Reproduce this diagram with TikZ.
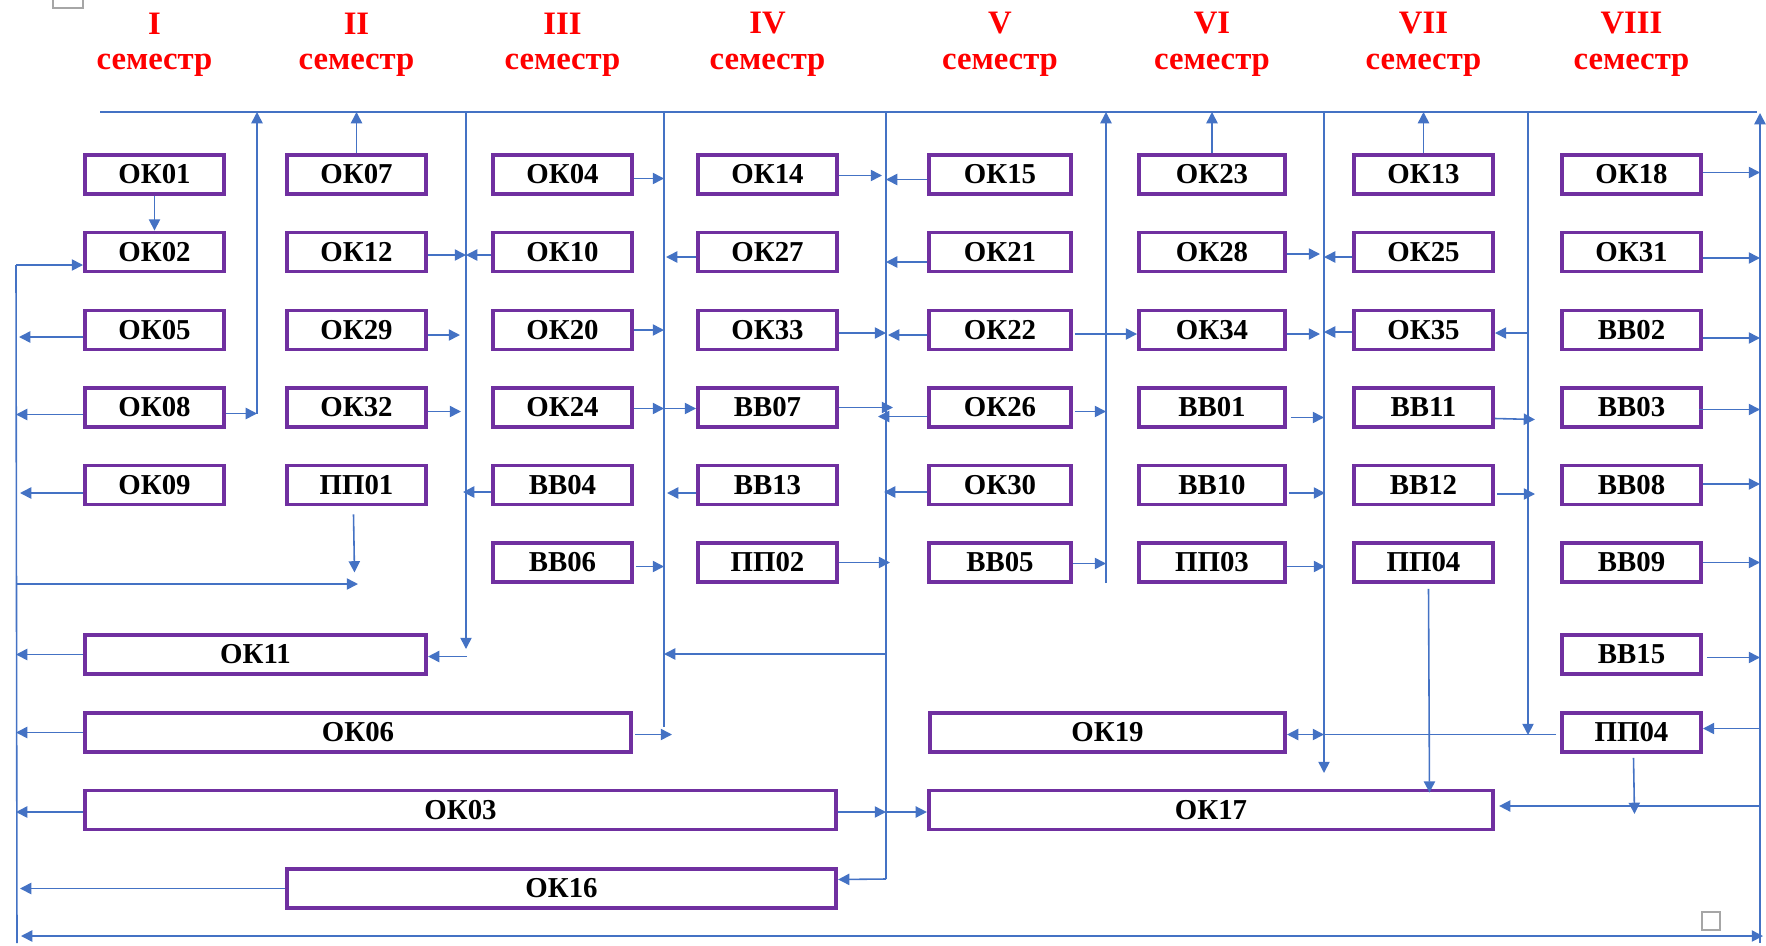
\documentclass[tikz,border=0pt]{standalone}
\usepackage{fontspec}
\setmainfont{Liberation Serif}
\usetikzlibrary{arrows.meta,calc}
\definecolor{lineblue}{HTML}{4472C4}
\definecolor{boxpurple}{HTML}{7030A0}
\definecolor{anchorgray}{HTML}{A6A6A6}
\begin{document}
\begin{tikzpicture}[x=0.01cm,y=-0.01cm,
  box/.style={draw=boxpurple, line width=1.1pt, minimum height=0.39cm, minimum width=1.39cm, inner sep=0pt, fill=white, font=\bfseries\fontsize{8.2}{9}\selectfont},
  hdr/.style={text=red, font=\bfseries\fontsize{9.3}{11}\selectfont, inner sep=0pt},
  conn/.style={draw=lineblue, line width=0.45pt},
  arr/.style={conn, -{Triangle[length=3.2pt,width=3.2pt]}},
  darr/.style={conn, {Triangle[length=3.2pt,width=3.2pt]}-{Triangle[length=3.2pt,width=3.2pt]}},
  anchormark/.style={draw=anchorgray, line width=0.6pt}
]
\useasboundingbox (0,0) rectangle (1766,945);

% headers
\foreach \n/\x/\t in {1/154.5/I,2/356.5/II,3/562.5/III,4/767.5/IV,5/1000/V,6/1212/VI,7/1423.5/VII,8/1631.5/VIII}{
  \node[hdr] (h\n) at (\x,23.5) {\t};
  \node[hdr] (s\n) at (\x,65) {семестр};
}

% bus coordinates
\coordinate (topL) at (100,112);
\coordinate (topR) at (1757,112);
\coordinate (bLt) at (16,265);
\coordinate (bLb) at (17,943);
\coordinate (bA) at (257,112);
\coordinate (bB) at (466,112);
\coordinate (bC) at (664,112);
\coordinate (bD) at (886,112);
\coordinate (bE) at (1106,112);
\coordinate (bF) at (1324,112);
\coordinate (bG) at (1528,112);
\coordinate (bRt) at (1760,113);
\coordinate (bRb) at (1760,943);
\coordinate (botL) at (21,936);
\coordinate (botR) at (1763,936);

% column I
\node[box] (ok01) at (154.5,174.5) {ОК01};
\node[box] (ok02) at (154.5,252) {ОК02};
\node[box] (ok05) at (154.5,330) {ОК05};
\node[box] (ok08) at (154.5,407.5) {ОК08};
\node[box] (ok09) at (154.5,485) {ОК09};
% column II
\node[box] (ok07) at (356.5,174.5) {ОК07};
\node[box] (ok12) at (356.5,252) {ОК12};
\node[box] (ok29) at (356.5,330) {ОК29};
\node[box] (ok32) at (356.5,407.5) {ОК32};
\node[box] (pp01) at (356.5,485) {ПП01};
% column III
\node[box] (ok04) at (562.5,174.5) {ОК04};
\node[box] (ok10) at (562.5,252) {ОК10};
\node[box] (ok20) at (562.5,330) {ОК20};
\node[box] (ok24) at (562.5,407.5) {ОК24};
\node[box] (bb04) at (562.5,485) {ВВ04};
\node[box] (bb06) at (562.5,562.5) {ВВ06};
% column IV
\node[box] (ok14) at (767.5,174.5) {ОК14};
\node[box] (ok27) at (767.5,252) {ОК27};
\node[box] (ok33) at (767.5,330) {ОК33};
\node[box] (bb07) at (767.5,407.5) {ВВ07};
\node[box] (bb13) at (767.5,485) {ВВ13};
\node[box] (pp02) at (767.5,562.5) {ПП02};
% column V
\node[box, minimum width=1.42cm] (ok15) at (1000,174.5) {ОК15};
\node[box, minimum width=1.42cm] (ok21) at (1000,252) {ОК21};
\node[box, minimum width=1.42cm] (ok22) at (1000,330) {ОК22};
\node[box, minimum width=1.42cm] (ok26) at (1000,407.5) {ОК26};
\node[box, minimum width=1.42cm] (ok30) at (1000,485) {ОК30};
\node[box, minimum width=1.42cm] (bb05) at (1000,562.5) {ВВ05};
% column VI
\node[box, minimum width=1.46cm] (ok23) at (1212,174.5) {ОК23};
\node[box, minimum width=1.46cm] (ok28) at (1212,252) {ОК28};
\node[box, minimum width=1.46cm] (ok34) at (1212,330) {ОК34};
\node[box, minimum width=1.46cm] (bb01) at (1212,407.5) {ВВ01};
\node[box, minimum width=1.46cm] (bb10) at (1212,485) {ВВ10};
\node[box, minimum width=1.46cm] (pp03) at (1212,562.5) {ПП03};
% column VII
\node[box] (ok13) at (1423.5,174.5) {ОК13};
\node[box] (ok25) at (1423.5,252) {ОК25};
\node[box] (ok35) at (1423.5,330) {ОК35};
\node[box] (bb11) at (1423.5,407.5) {ВВ11};
\node[box] (bb12) at (1423.5,485) {ВВ12};
\node[box] (pp04a) at (1423.5,562.5) {ПП04};
% column VIII
\node[box] (ok18) at (1631.5,174.5) {ОК18};
\node[box] (ok31) at (1631.5,252) {ОК31};
\node[box] (bb02) at (1631.5,330) {ВВ02};
\node[box] (bb03) at (1631.5,407.5) {ВВ03};
\node[box] (bb08) at (1631.5,485) {ВВ08};
\node[box] (bb09) at (1631.5,562.5) {ВВ09};
\node[box] (bb15) at (1631.5,654.5) {ВВ15};
\node[box] (pp04b) at (1631.5,732.5) {ПП04};
% wide boxes
\node[box, minimum width=3.41cm] (ok11) at (255.5,654.5) {ОК11};
\node[box, minimum width=5.46cm] (ok06) at (358,732.5) {ОК06};
\node[box, minimum width=7.51cm] (ok03) at (460.5,810) {ОК03};
\node[box, minimum width=5.49cm] (ok16) at (561.5,888.5) {ОК16};
\node[box, minimum width=3.55cm] (ok19) at (1107.5,732.5) {ОК19};
\node[box, minimum width=5.64cm] (ok17) at (1211,810) {ОК17};

% frame lines
\draw[conn] (topL) -- (topR);
\draw[conn] (bLt) -- (bLb);
\draw[darr] (botL) -- (botR);
\draw[arr] (bRb) -- (bRt);

% column I links
\draw[arr] (ok01) -- (ok02);
\draw[arr] (bLt) -- (bLt -| ok02.west);
\draw[arr] ($(ok05.west)+(0,7)$) -- ($(ok05.west -| bLt)+(3,7)$);
\draw[arr] ($(ok08.west)+(0,7)$) -- ($(ok08.west -| bLt)+(0,7)$);
\draw[arr] ($(ok09.west)+(0,8)$) -- ($(ok09.west -| bLt)+(4,8)$);
\draw[arr] (ok11.west) -- (ok11.west -| bLt);
\draw[arr] (ok06.west) -- (ok06.west -| bLt);
\draw[arr] ($(ok03.west)+(0,2)$) -- ($(ok03.west -| bLt)+(0,2)$);
\draw[arr] (ok16.west) -- ($(ok16.west -| bLt)+(4,0)$);
\draw[arr] ($(ok08.east)+(0,6)$) -- ($(ok08.east -| bA)+(0,6)$);
\draw[arr] ($(ok08.east -| bA)+(0,6)$) -- (bA);

% column II links
\draw[arr] (ok07.north) -- (ok07.north |- topL);
\draw[arr] ($(ok12.east)+(0,3)$) -- ($(ok12.east -| bB)+(0,3)$);
\draw[arr] ($(ok29.east)+(0,5)$) -- ($(ok29.east -| bB)+(-6,5)$);
\draw[arr] ($(ok32.east)+(0,4)$) -- ($(ok32.east -| bB)+(-5,4)$);
\coordinate (jn) at (358,584);
\draw[arr] ($(pp01.south)+(-3,8)$) -- ($(pp01.south)+(-2,66)$);
\draw[arr] (jn -| bLt) -- (jn);
\draw[arr] (bB) -- (466,649);
\draw[arr] ($(bB |- ok11.east)+(1,2)$) -- ($(ok11.east)+(0,2)$);

% column III links
\draw[conn] (bC) -- (664,727);
\draw[arr] ($(ok04.east)+(0,4)$) -- ($(ok04.east -| bC)+(0,4)$);
\draw[arr] ($(ok10.west)+(0,3)$) -- ($(ok10.west -| bB)+(0,3)$);
\draw[arr] (ok20.east) -- (ok20.east -| bC);
\draw[arr] ($(ok24.east)+(0,1)$) -- ($(ok24.east -| bC)+(0,1)$);
\draw[arr] ($(ok24.east -| bC)+(0,1)$) -- ($(bb07.west)+(0,1)$);
\draw[arr] ($(bb04.west)+(0,7)$) -- ($(bb04.west -| bB)+(-3,7)$);
\draw[arr] ($(bb06.east)+(2,4)$) -- ($(bb06.east -| bC)+(0,4)$);
\draw[arr] ($(ok06.east)+(2,2)$) -- ($(ok06.east -| bC)+(8,2)$);

% column IV links
\draw[conn] (bD) -- (886,879);
\draw[arr] ($(ok14.east)+(0,1)$) -- ($(ok14.east -| bD)+(-4,1)$);
\draw[arr] ($(ok27.west)+(0,5)$) -- ($(ok27.west -| bC)+(2,5)$);
\draw[arr] ($(ok33.east)+(0,3)$) -- ($(ok33.east -| bD)+(0,3)$);
\draw[arr] (bb07.east) -- ($(bb07.east -| bD)+(7,0)$);
\draw[arr] ($(bb13.west)+(0,8)$) -- ($(bb13.west -| bC)+(3,8)$);
\draw[arr] (pp02.east) -- ($(pp02.east -| bD)+(4,0)$);
\draw[arr] (886,654) -- (664,654);
\draw[arr] ($(ok03.east)+(0,2)$) -- ($(ok03.east -| bD)+(0,2)$);
\draw[arr] ($(ok03.east -| bD)+(0,2)$) -- ($(ok17.west)+(0,2)$);
\draw[arr] (886,879) -- ($(ok16.east)+(0,-9)$);

% column V links
\draw[arr] (1106,583) -- (bE);
\draw[arr] ($(ok15.west)+(0,5)$) -- ($(ok15.west -| bD)+(0,5)$);
\draw[arr] ($(ok21.west)+(0,10)$) -- ($(ok21.west -| bD)+(0,10)$);
\draw[arr] ($(ok22.west)+(0,5)$) -- ($(ok22.west -| bD)+(2,5)$);
\draw[arr] ($(ok22.east)+(2,4)$) -- ($(ok34.west)+(0,4)$);
\draw[arr] ($(ok26.west)+(0,9)$) -- ($(ok26.west -| bD)+(-8,9)$);
\draw[arr] ($(ok26.east)+(2,4)$) -- ($(ok26.east -| bE)+(0,4)$);
\draw[arr] ($(ok30.west)+(0,7)$) -- ($(ok30.west -| bD)+(-2,7)$);
\draw[arr] ($(bb05.east)+(0,1)$) -- ($(bb05.east -| bE)+(0,1)$);

% column VI links
\draw[arr] (ok23.north) -- (ok23.north |- topL);
\draw[arr] (bF) -- (1324,773);
\draw[arr] ($(ok28.east)+(0,2)$) -- ($(ok28.east -| bF)+(-4,2)$);
\draw[arr] ($(ok34.east)+(0,4)$) -- ($(ok34.east -| bF)+(-4,4)$);
\draw[arr] ($(bb01.east)+(4,10)$) -- ($(bb01.east -| bF)+(0,10)$);
\draw[arr] ($(bb10.east)+(2,8)$) -- ($(bb10.east -| bF)+(1,8)$);
\draw[arr] ($(pp03.east)+(0,4)$) -- ($(pp03.east -| bF)+(1,4)$);

% column VII links
\draw[arr] (ok13.north) -- (ok13.north |- topL);
\draw[arr] (bG) -- (1528,735);
\draw[arr] ($(ok25.west)+(0,5)$) -- ($(ok25.west -| bF)+(0,5)$);
\draw[arr] ($(ok35.west)+(0,2)$) -- ($(ok35.west -| bF)+(0,2)$);
\draw[arr] ($(ok35.east -| bG)+(0,3)$) -- ($(ok35.east)+(0,3)$);
\draw[arr] ($(bb11.east)+(0,11)$) -- ($(bb11.east -| bG)+(7,12)$);
\draw[arr] ($(bb12.east)+(2,9)$) -- ($(bb12.east -| bG)+(7,9)$);
\draw[arr] ($(pp04a.south)+(5,5)$) -- ($(pp04a.south |- ok17.north)+(6,4)$);

% column VIII links
\draw[arr] ($(ok18.east)+(0,-2)$) -- ($(ok18.east -| bRt)+(0,-2)$);
\draw[arr] ($(ok31.east)+(0,6)$) -- ($(ok31.east -| bRt)+(0,6)$);
\draw[arr] ($(bb02.east)+(0,8)$) -- ($(bb02.east -| bRt)+(0,8)$);
\draw[arr] ($(bb03.east)+(-4,2)$) -- ($(bb03.east -| bRt)+(0,2)$);
\draw[arr] ($(bb08.east)+(0,-1)$) -- ($(bb08.east -| bRt)+(0,-1)$);
\draw[arr] (bb09.east) -- (bb09.east -| bRt);
\draw[arr] ($(bb15.east)+(4,3)$) -- ($(bb15.east -| bRt)+(0,3)$);
\draw[arr] ($(pp04b.east -| bRt)+(0,-4)$) -- ($(pp04b.east)+(0,-4)$);
\draw[arr] ($(pp04b.west)+(-4,2)$) -- ($(ok19.east)+(0,2)$);
\draw[arr] ($(ok19.east)+(2,2)$) -- ($(ok19.east -| bF)+(0,2)$);
\draw[arr] ($(pp04b.south)+(2,4)$) -- ($(pp04b.south)+(3,60)$);
\draw[arr] ($(ok17.east -| bRt)+(0,-4)$) -- ($(ok17.east)+(4,-4)$);

% editor anchor marks
\draw[anchormark] (53,-21) rectangle (83,8);
\draw[anchormark] (1702,912) rectangle (1720,930);
\end{tikzpicture}
\end{document}
